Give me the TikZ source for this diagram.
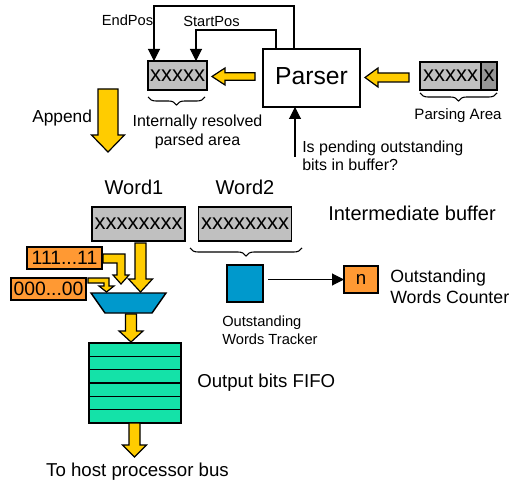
\documentclass[tikz,border=0pt]{standalone}
\usepackage{fontspec}
\setmainfont{Liberation Sans}
\usetikzlibrary{arrows.meta,calc,decorations.pathreplacing}
\definecolor{yel}{RGB}{255,204,0}
\definecolor{org}{RGB}{255,153,51}
\definecolor{blu}{RGB}{0,153,204}
\definecolor{grn}{RGB}{20,226,168}
\definecolor{lgray}{RGB}{192,192,192}
\definecolor{dgray}{RGB}{150,150,150}
\newcommand\fsz[1]{\fontsize{#1}{#1}\selectfont}
% down block arrow: cx, ytop, yhead, ytip, shaft half width, head half width
\newcommand\ydown[6]{\filldraw[yarrow] ({#1-#5},#2) -- ({#1+#5},#2) -- ({#1+#5},#3) -- ({#1+#6},#3) -- (#1,#4) -- ({#1-#6},#3) -- ({#1-#5},#3) -- cycle;}
% left block arrow: tipx, headx, tailx, cy, shaft half width, head half width
\newcommand\yleft[6]{\filldraw[yarrow] (#3,{#4-#5}) -- (#2,{#4-#5}) -- (#2,{#4-#6}) -- (#1,#4) -- (#2,{#4+#6}) -- (#2,{#4+#5}) -- (#3,{#4+#5}) -- cycle;}
\begin{document}
\begin{tikzpicture}[x=0.75pt,y=-0.75pt,
  yarrow/.style={fill=yel,draw=black,line width=0.9pt,line join=miter},
  box/.style={draw=black,line width=1.1pt,inner sep=0pt,outer sep=0pt},
  conn/.style={line width=0.8pt,-{Triangle[length=9pt,width=9pt]}},
  lbl/.style={inner sep=0pt,anchor=base west},
  clbl/.style={inner sep=0pt,anchor=base},
  brc/.style={decorate,decoration={brace,amplitude=6pt},line width=0.8pt}]
\useasboundingbox (0,0) rectangle (514,481);

% top part
\node[box,fill=lgray,minimum width=44.25pt,minimum height=21.75pt] (resolved) at (177.5,75.5) {\fsz{16.5}xxxxx};
\node[box,line width=1pt,minimum width=72.75pt,minimum height=43.5pt] (parser) at (311.5,78) {};
\node[clbl] (parsertxt) at (311.5,85) {\fsz{18.5}Parser};
\node[box,fill=lgray,minimum width=45.75pt,minimum height=21pt] (parsing) at (450.5,76) {\fsz{16.5}xxxxx};
\node[box,fill=dgray,minimum width=12pt,minimum height=21pt] (parsingx) at (489,76) {\fsz{16.5}x};

\draw[conn] ($(parser.north)+(-17.5,0)$) -- ++(0,-43) -| ($(resolved.north west)+(6,0)$);
\draw[conn] ($(parser.north)+(-35.5,0)$) -- ++(0,-19) -| ($(resolved.north west)+(48,0)$);
\node[clbl] (endpos) at (127.5,26) {\fsz{11}EndPos};
\node[clbl] (startpos) at (211.5,27) {\fsz{11}StartPos};

\yleft{212}{225}{255}{76.5}{3.7}{8.5}
\yleft{365}{378}{409}{77.5}{4.5}{9.5}

\draw[brc] (205,97) -- (148,97);
\node[clbl] (ir1) at (197.5,127) {\fsz{12}Internally resolved};
\node[clbl] (ir2) at (197.5,146) {\fsz{12}parsed area};

\draw[brc] (497,93) -- (420,93);
\node[clbl] (parea) at (458,120) {\fsz{11.3}Parsing Area};

\coordinate (qstart) at (295,157);
\draw[conn] (qstart) -- (qstart |- parser.south);
\node[lbl] (q1) at (302,153) {\fsz{12}Is pending outstanding};
\node[lbl] (q2) at (302,171) {\fsz{12}bits in buffer?};

% append
\ydown{108}{89}{135}{152}{10}{16.5}
\node[lbl] (append) at (32,123) {\fsz{13}Append};

% intermediate buffer
\node[clbl] (w1lbl) at (134,195) {\fsz{15}Word1};
\node[clbl] (w2lbl) at (245,195) {\fsz{15}Word2};
\node[box,fill=lgray,minimum width=69.75pt,minimum height=25.5pt] (word1) at (138.5,224) {\fsz{16.5}xxxxxxxx};
\node[box,fill=lgray,minimum width=69.75pt,minimum height=25.5pt] (word2) at (245,224) {\fsz{16.5}xxxxxxxx};
\node[lbl] (ibuf) at (328,220) {\fsz{15}Intermediate buffer};

\draw[brc] (302,248) -- (190,248);
\node[box,fill=blu,minimum width=27pt,minimum height=27.75pt] (tracker) at (245,283.5) {};
\node[box,fill=org,minimum width=25.5pt,minimum height=20.25pt] (counter) at (361,279.5) {\fsz{14}n};
\draw[conn,shorten <=4pt] (tracker.east |- counter.west) -- (counter.west);
\node[lbl] (oc1) at (390,282) {\fsz{13.3}Outstanding};
\node[lbl] (oc2) at (390,303) {\fsz{13.3}Words Counter};
\node[lbl] (ot1) at (222,326) {\fsz{11}Outstanding};
\node[lbl] (ot2) at (222,344) {\fsz{11}Words Tracker};

% mux
\node[box,fill=org,minimum width=56.25pt,minimum height=16.5pt] (ones) at (64.5,258) {\fsz{14.5}111...11};
\node[box,fill=org,minimum width=56.25pt,minimum height=16.5pt] (zeros) at (48.5,289) {\fsz{14.5}000...00};
\filldraw[fill=blu,draw=black,line width=1.1pt] (91,293) -- (166,293) -- (152,313) -- (105,313) -- cycle;
\ydown{140.5}{243}{279}{292}{5.5}{12}
\filldraw[yarrow] (103,254) -- (125,254) -- (125,275) -- (129,275) -- (121,284) -- (113,275) -- (117,275) -- (117,263) -- (103,263) -- cycle;
\filldraw[yarrow] (88,278) -- (109,278) -- (109,286) -- (114,286) -- (106.5,292) -- (99,286) -- (104,286) -- (104,283) -- (88,283) -- cycle;

% fifo
\ydown{131}{314}{331}{342}{5.5}{12}
\node[box,fill=grn,minimum width=69pt,minimum height=60pt] (fifo) at (135,383) {};
\foreach \i in {1,...,5} {
  \draw[line width=1.1pt] ($(fifo.north west)!\i/6!(fifo.south west)$) -- ($(fifo.north east)!\i/6!(fifo.south east)$);
}
\node[lbl] (fifolbl) at (197,387) {\fsz{14}Output bits FIFO};
\ydown{134.5}{423}{445}{457}{5.5}{12}
\node[clbl] (host) at (137.5,476) {\fsz{14}To host processor bus};
\end{tikzpicture}
\end{document}
